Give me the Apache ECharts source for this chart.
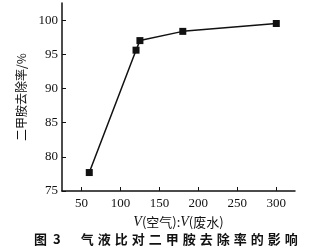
<!DOCTYPE html>
<html><head><meta charset="utf-8">
<script src="https://cdn.jsdelivr.net/npm/echarts@6/dist/echarts.min.js"></script>
<style>html,body{margin:0;padding:0;background:#fff}#c{width:325px;height:249px}</style>
</head><body><div id="c"></div>
<script>
const ratios = [60, 120, 125, 180, 300];
const removal = [77.7, 95.6, 97.0, 98.35, 99.5];
const xTicks = [50, 100, 150, 200, 250, 300];
const yTicks = [75, 80, 85, 90, 95, 100];
const yName = '二甲胺去除率/%';
const captionHead = ['图', '3'];
const captionBody = '气液比对二甲胺去除率的影响';

const chart = echarts.init(document.getElementById('c'), null, {renderer: 'canvas'});
const serif = '"Liberation Serif", "DejaVu Serif", serif';
const cjk = '"Noto Sans CJK SC", sans-serif';
const captionRich = '{h|' + captionHead[0] + '}{t| }{h|' + captionHead[1] + '}{g| }' + captionBody.split('').join('{s| }');
chart.setOption({
  animation: false,
  backgroundColor: '#fff',
  grid: {left: 62, right: 30, top: 3, bottom: 58},
  title: {
    text: captionRich, left: 29, top: 228,
    textStyle: {fontFamily: cjk, fontSize: 13, fontWeight: 'bold', color: '#111',
      rich: {
        h: {fontFamily: cjk, fontSize: 13, fontWeight: 'bold', color: '#111'},
        t: {fontSize: 13, width: 6},
        g: {fontSize: 13, width: 20},
        s: {fontSize: 13, width: 4}
      }}
  },
  xAxis: {
    type: 'value', min: 25, max: 324,
    name: '{i|V}(空气):{i|V}(废水)',
    nameLocation: 'middle', nameGap: 18,
    nameTextStyle: {fontFamily: cjk, fontSize: 13, color: '#111',
      rich: {i: {fontFamily: serif, fontStyle: 'italic', fontSize: 14, color: '#111'}}},
    axisLine: {lineStyle: {color: '#111', width: 1.5}},
    axisTick: {inside: true, length: 4, customValues: xTicks, lineStyle: {color: '#111', width: 1}},
    axisLabel: {customValues: xTicks, fontFamily: serif, fontSize: 13, color: '#111', margin: 6},
    splitLine: {show: false}
  },
  yAxis: {
    type: 'value', min: 75, max: 102.5,
    name: yName, nameLocation: 'middle', nameGap: 30, nameRotate: 90,
    nameTextStyle: {fontFamily: cjk, fontSize: 12, color: '#111'},
    axisLine: {show: true, lineStyle: {color: '#111', width: 1.5}},
    axisTick: {show: true, inside: true, length: 4, customValues: yTicks, lineStyle: {color: '#111', width: 1}},
    axisLabel: {customValues: yTicks, fontFamily: serif, fontSize: 13, color: '#111', margin: 4},
    splitLine: {show: false}
  },
  series: [{
    type: 'line',
    data: ratios.map((r, i) => [r, removal[i]]),
    symbol: 'rect', symbolSize: 7,
    lineStyle: {color: '#111', width: 1.5},
    itemStyle: {color: '#111'}
  }]
});
</script></body></html>
